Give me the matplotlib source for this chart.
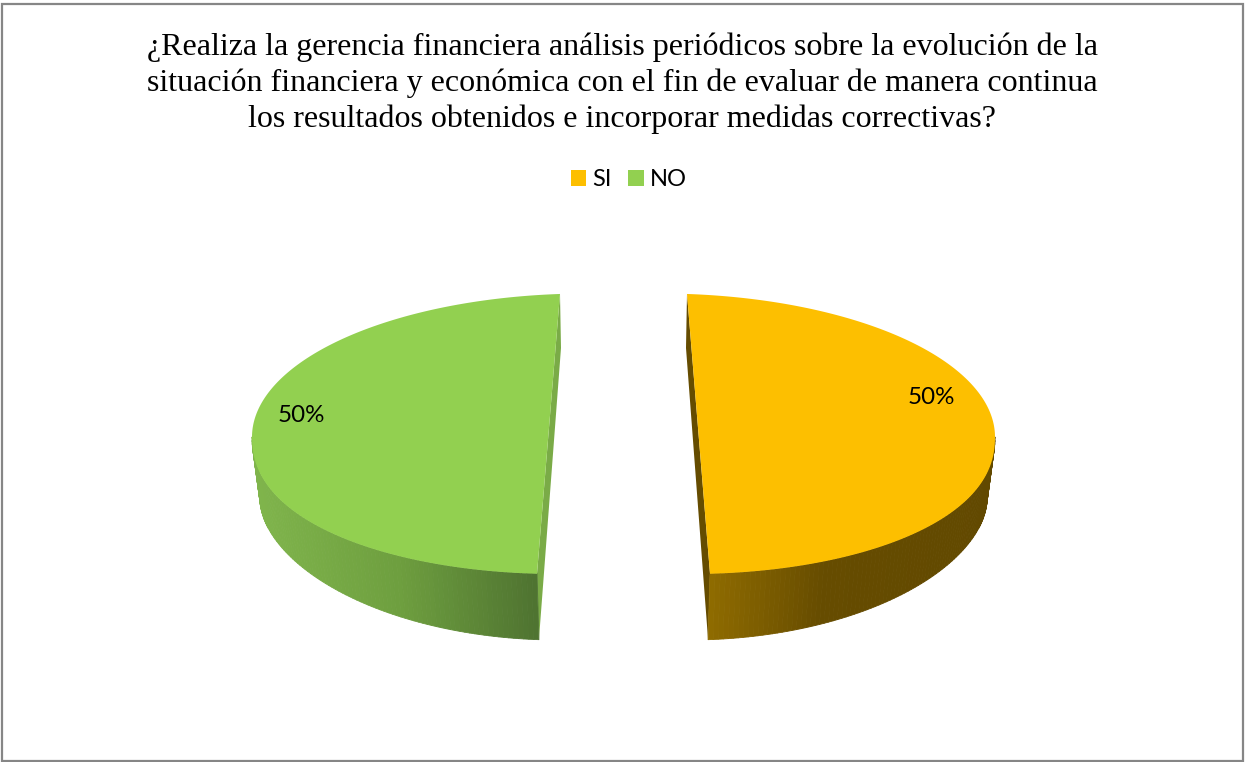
# plot.py
import numpy as np
import matplotlib
matplotlib.use("Agg")
import matplotlib.pyplot as plt
from matplotlib.collections import PolyCollection
from matplotlib.colors import to_rgb
from matplotlib.patches import Patch, Polygon, Rectangle

title = ("¿Realiza la gerencia financiera análisis periódicos sobre la evolución de la\n"
         "situación financiera y económica con el fin de evaluar de manera continua\n"
         "los resultados obtenidos e incorporar medidas correctivas?")
categories = ["SI", "NO"]
shares = [50, 50]

top_colors = {"SI": "#fdbf00", "NO": "#92d050"}
face_colors = {"SI": "#654c00", "NO": "#7aab47"}
# wall shading, from the outer edge to the cut
wall_stops = {
    "SI": [(0.0, "#624900"), (0.59, "#664c00"), (1.0, "#906c00")],
    "NO": [(0.0, "#80b54c"), (0.5, "#6e9f3f"), (1.0, "#4e7230")],
}
sides = {"SI": 1, "NO": -1}
label_pos = {"SI": (931, 398), "NO": (301, 415)}

W, H = 1245, 762
MID = 623.5  # the two slices are mirrored around this x
# perspective squeezes the slice: each half of the outline has its own curve
# (x offset from MID, half width, half height, exponent)
TOP_UP = (36.5, 335.0, 143.5, 1.0)
TOP_LOW = (66.5, 305.0, 137.0, 0.9)
BOTTOM_LOW = (65.0, 298.5, 140.0, 1.1)
TOP_CY, BOTTOM_CY = 437.0, 500.0
T0 = np.arcsin(27 / 335)
SQUEEZE = (np.pi - np.arcsin(20 / 305) - T0) / np.pi


def outline(t, side, upper, lower, cy):
    t = np.asarray(t, dtype=float)
    cx_u, a_u, b_u, p_u = upper
    cx_l, a_l, b_l, p_l = lower
    is_up = t <= np.pi / 2
    x = np.where(is_up, cx_u + a_u * np.sin(t), cx_l + a_l * np.sin(t))
    c = np.abs(np.cos(t))
    y = np.where(is_up, cy - b_u * c ** p_u, cy + b_l * c ** p_l)
    return MID + side * x, y


def top_edge(t, side):
    return outline(t, side, TOP_UP, TOP_LOW, TOP_CY)


def bottom_edge(t, side):
    return outline(t, side, BOTTOM_LOW, BOTTOM_LOW, BOTTOM_CY)


def wall_color(name, u):
    pos = [s[0] for s in wall_stops[name]]
    rgb = np.array([to_rgb(s[1]) for s in wall_stops[name]])
    return [np.interp(u, pos, rgb[:, i]) for i in range(3)]


fig = plt.figure(figsize=(W / 100, H / 100), dpi=100)
ax = fig.add_axes([0, 0, 1, 1])
ax.set_xlim(0, W)
ax.set_ylim(H, 0)
ax.axis("off")

ax.add_patch(Rectangle((2, 3.5), W - 4, H - 5, fill=False, ec="#868686", lw=1.6))

for name, share in zip(categories, shares):
    side = sides[name]
    t_end = T0 + 2 * np.pi * share / 100 * SQUEEZE

    # cut face
    x0, y0 = top_edge(T0, side)
    x1, y1 = top_edge(t_end, side)
    x2, y2 = bottom_edge(t_end, side)
    ax.add_patch(Polygon([(x0, y0), (MID + side * 62.5, 348), (x2, y2), (x1, y1)],
                         fc=face_colors[name], ec="none", zorder=2))

    # outer wall, shaded in thin strips
    ts = np.linspace(np.pi / 2, t_end, 90)
    quads, cols = [], []
    for i in range(len(ts) - 1):
        xa, ya = top_edge(ts[i], side)
        xb, yb = top_edge(ts[i + 1], side)
        xc, yc = bottom_edge(ts[i + 1], side)
        xd, yd = bottom_edge(ts[i], side)
        quads.append([(xa, ya), (xb, yb), (xc, yc), (xd, yd)])
        cols.append(wall_color(name, (1 - np.sin(ts[i])) / (1 - np.sin(t_end))))
    ax.add_collection(PolyCollection(quads, facecolors=cols, edgecolors=cols, linewidths=0.6, zorder=3))

    # top of the slice
    t = np.linspace(T0, t_end, 200)
    xs, ys = top_edge(t, side)
    ax.fill(xs, ys, color=top_colors[name], lw=0, zorder=4)

    ax.text(*label_pos[name], f"{share}%", family="Lato", fontsize=17.4,
            ha="center", va="center", color="black", zorder=5)

ax.text(622.5, 83, title, family="Liberation Serif", fontsize=23, ha="center", va="center",
        multialignment="center", linespacing=1.29, color="black")

handles = [Patch(fc=top_colors[c], ec="none", label=c) for c in categories]
ax.legend(handles=handles, loc="center", bbox_to_anchor=(629 / W, 1 - 180 / H), ncol=2,
          frameon=False, prop={"family": "Lato", "size": 17}, handlelength=0.64, handleheight=0.64,
          handletextpad=0.27, columnspacing=0.7, borderpad=0)

fig.savefig("out.png", dpi=100)
